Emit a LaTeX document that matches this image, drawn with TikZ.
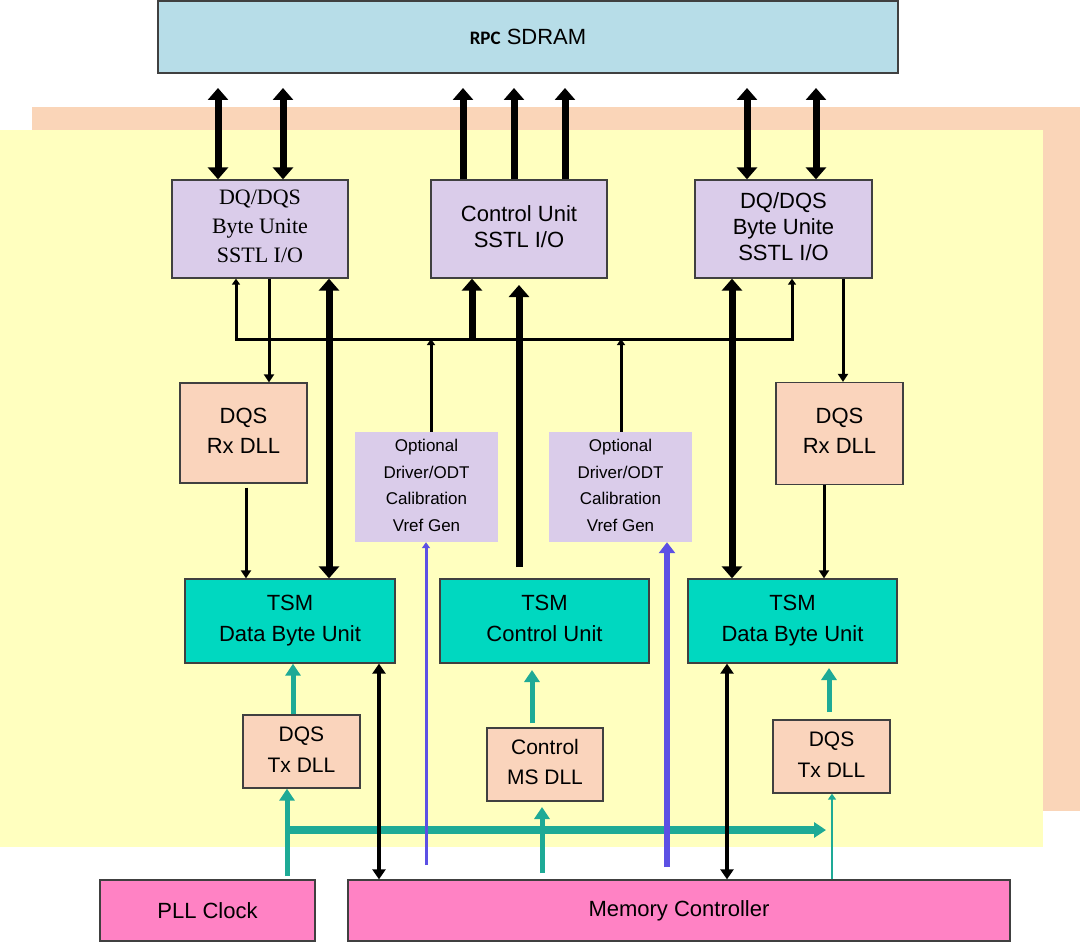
\documentclass[tikz,border=0pt]{standalone}
\usepackage{fontspec}
\setmainfont{Liberation Sans}
\newfontfamily\seriffont{Liberation Serif}
\newfontfamily\rpcfont{Carlito}
\usetikzlibrary{arrows.meta}
\newcommand\lowpad{\vphantom{y}}
\definecolor{edgec}{RGB}{64,64,64}
\definecolor{sdramc}{RGB}{183,221,232}
\definecolor{peachbg}{RGB}{250,213,184}
\definecolor{yellowbg}{RGB}{255,255,191}
\definecolor{lavc}{RGB}{218,204,234}
\definecolor{peachbox}{RGB}{250,212,188}
\definecolor{tsmc}{RGB}{0,216,192}
\definecolor{pinkc}{RGB}{255,130,196}
\definecolor{tealarr}{RGB}{30,170,150}
\definecolor{bluearr}{RGB}{92,80,228}
\tikzset{
  bigtip/.tip={Triangle[width=20pt,length=12pt]},
  medtip/.tip={Triangle[width=13pt,length=10pt]},
  smalltip/.tip={Triangle[width=10pt,length=8pt]},
  tinytip/.tip={Triangle[width=8pt,length=6pt]},
  tealtip/.tip={Triangle[width=15pt,length=12pt]},
  box/.style={draw=edgec, line width=1.3pt, inner sep=0pt, align=center,
    font=\fontsize{22pt}{26pt}\selectfont},
  optbox/.style={fill=lavc, inner sep=0pt, align=center,
    minimum width=143pt, minimum height=110pt,
    font=\fontsize{17pt}{26.5pt}\selectfont},
  thickline/.style={line width=7pt, draw=black},
  thinline/.style={line width=3pt, draw=black},
  tealline/.style={line width=5pt, draw=tealarr},
  blackdbl/.style={line width=4.5pt, draw=black, medtip-medtip},
}
\begin{document}
\begin{tikzpicture}[x=1pt,y=-1pt]
\useasboundingbox (0,0) rectangle (1080,942);
% backgrounds
\fill[peachbg] (32,107) rectangle (1080,811);
\fill[yellowbg] (0,130) rectangle (1043,847);

% nodes
\node[box, fill=sdramc, minimum width=740pt, minimum height=72pt] (sdram) at (528,37)
  {{\rpcfont\bfseries\fontsize{19pt}{22pt}\selectfont RPC} SDRAM};
\node[box, fill=lavc, minimum width=176pt, minimum height=98pt,
  font=\seriffont\fontsize{22pt}{29pt}\selectfont] (dq1) at (260,229)
  {DQ/DQS\\Byte Unite\\SSTL I/O\lowpad};
\node[box, fill=lavc, minimum width=176pt, minimum height=98pt] (cu) at (519,229)
  {Control Unit\\SSTL I/O\lowpad};
\node[box, fill=lavc, minimum width=177pt, minimum height=98pt] (dq2) at (783.5,229)
  {DQ/DQS\\Byte Unite\\SSTL I/O\lowpad};
\node[box, fill=peachbox, minimum width=127pt, minimum height=100pt,
  font=\fontsize{22pt}{30pt}\selectfont] (rx1) at (243.5,433) {DQS\\Rx DLL\lowpad};
\node[box, fill=peachbox, minimum width=127pt, minimum height=102pt,
  font=\fontsize{22pt}{30pt}\selectfont] (rx2) at (839.5,433.5) {DQS\\Rx DLL\lowpad};
\node[optbox] (opt1) at (426.5,487) {Optional\\Driver/ODT\\Calibration\\Vref Gen\lowpad};
\node[optbox] (opt2) at (620.5,487) {Optional\\Driver/ODT\\Calibration\\Vref Gen\lowpad};
\node[box, fill=tsmc, minimum width=210pt, minimum height=84pt,
  font=\fontsize{22pt}{31pt}\selectfont] (tsm1) at (290,621) {TSM\\Data Byte Unit};
\node[box, fill=tsmc, minimum width=209pt, minimum height=84pt,
  font=\fontsize{22pt}{31pt}\selectfont] (tsm2) at (544.5,621) {TSM\\Control Unit\lowpad};
\node[box, fill=tsmc, minimum width=209pt, minimum height=84pt,
  font=\fontsize{22pt}{31pt}\selectfont] (tsm3) at (792.5,621) {TSM\\Data Byte Unit};
\node[box, fill=peachbox, minimum width=117pt, minimum height=73pt,
  font=\fontsize{21pt}{31pt}\selectfont] (tx1) at (301.5,751.5) {DQS\\Tx DLL\lowpad};
\node[box, fill=peachbox, minimum width=116pt, minimum height=73pt,
  font=\fontsize{21pt}{30pt}\selectfont] (ms) at (545,764.5) {Control\\MS DLL\lowpad};
\node[box, fill=peachbox, minimum width=117pt, minimum height=73pt,
  font=\fontsize{21pt}{31pt}\selectfont] (tx2) at (831.5,756.5) {DQS\\Tx DLL\lowpad};
\node[box, fill=pinkc, minimum width=215pt, minimum height=61pt] (pll) at (207.5,910.5) {PLL Clock};
\node[box, fill=pinkc, minimum width=662pt, minimum height=61pt] (mc) at (679,910.5) {Memory Controller};

% free ends near SDRAM
\coordinate (t218) at (218,88);
\coordinate (t283) at (283,88);
\coordinate (t463) at (463,88);
\coordinate (t514) at (514,88);
\coordinate (t565) at (565,88);
\coordinate (t747) at (747,88);
\coordinate (t816) at (816,88);

% top connectors
\draw[thickline, bigtip-bigtip] (dq1.north -| t218) -- (t218);
\draw[thickline, bigtip-bigtip] (dq1.north -| t283) -- (t283);
\draw[thickline, -bigtip] (cu.north -| t463) -- (t463);
\draw[thickline, -bigtip] (cu.north -| t514) -- (t514);
\draw[thickline, -bigtip] (cu.north -| t565) -- (t565);
\draw[thickline, bigtip-bigtip] (dq2.north -| t747) -- (t747);
\draw[thickline, bigtip-bigtip] (dq2.north -| t816) -- (t816);

% bus
\coordinate (busL) at (236,339);
\coordinate (busR) at (792,339);
\draw[thinline, tinytip-tinytip, line join=miter]
  (dq1.south -| busL) -- (busL) -- (busR) -- (dq2.south -| busR);
\draw[thinline, -smalltip] (dq1.south -| 269,0) -- (rx1.north -| 269,0);
\draw[thickline, bigtip-bigtip] (dq1.south -| 329,0) -- (tsm1.north -| 329,0);
\draw[thinline, -tinytip] (opt1.north -| 431,0) -- (busL -| 431,0);
\draw[thickline, -bigtip] (busL -| 472,0) -- (cu.south -| 472,0);
\draw[thickline, -bigtip] (519,567) -- (519,285);
\draw[thinline, -tinytip] (opt2.north -| 621,0) -- (busR -| 621,0);
\draw[thickline, bigtip-bigtip] (dq2.south -| 732,0) -- (tsm3.north -| 732,0);
\draw[thinline, -smalltip] (dq2.south -| 843,0) -- (rx2.north -| 843,0);

% Rx DLL to TSM
\draw[thinline, -smalltip] ([yshift=-4pt]rx1.south -| 246,0) -- (tsm1.north -| 246,0);
\draw[thinline, -smalltip] (rx2.south -| 824,0) -- (tsm3.north -| 824,0);

% bottom teal
\coordinate (pllbus) at (287,830);
\coordinate (busend) at (826,830);
\draw[tealline, line width=8pt, -tealtip] (pllbus) -- (busend);
\draw[tealline, -tealtip] (tx1.north -| 293,0) -- (tsm1.south -| 293,0);
\draw[tealline, -tealtip] (532,723) -- (532,670);
\draw[tealline, -tealtip] (829,712) -- (829,668);
\draw[tealline, -tealtip] (287,876) -- (tx1.south -| 287,0);
\draw[tealline, -tealtip] (542,873) -- (542,807);
\draw[tealline, line width=2.5pt, -tinytip] (mc.north -| 832,0) -- (tx2.south -| 832,0);

% blue
\draw[line width=3pt, draw=bluearr, -tinytip] (426,865) -- (opt1.south -| 426,0);
\draw[line width=6pt, draw=bluearr, -{Triangle[width=16pt,length=11pt]}] (667,867) -- (opt2.south -| 667,0);

% black double bottom
\draw[blackdbl] (tsm1.south -| 379,0) -- (mc.north -| 379,0);
\draw[blackdbl] (tsm3.south -| 727,0) -- (mc.north -| 727,0);
\end{tikzpicture}
\end{document}
